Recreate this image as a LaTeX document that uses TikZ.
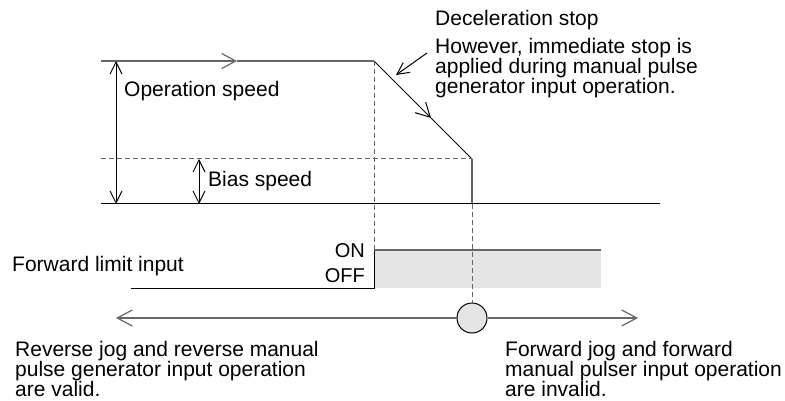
\documentclass[tikz,border=0pt]{standalone}
\usepackage{fontspec}
\setmainfont{Liberation Sans}
\usetikzlibrary{arrows.meta}
\definecolor{linegray}{gray}{0.4}
\definecolor{sigfill}{gray}{0.9}
\begin{document}
\begin{tikzpicture}[x=1pt,y=-1pt]

    \tikzset{
      txt/.style={anchor=base west,inner sep=0pt,font=\fontsize{21}{20}\selectfont,align=left},
      onoff/.style={anchor=base east,inner sep=0pt,font=\fontsize{20}{22}\selectfont,align=right},
      barb/.style={-{Straight Barb[length=14pt,width=15pt]}},
      dimarrow/.style={{Straight Barb[length=12pt,width=12pt]}-{Straight Barb[length=12pt,width=12pt]}},
      guide/.style={color=linegray,dashed,dash pattern=on 5pt off 3pt,line width=1pt},
    }
    \useasboundingbox (0,0) rectangle (785,401);
	% speed pattern
	\coordinate (start) at (101,61);
	\coordinate (decel) at (374,61);
	\coordinate (stop) at (472,159);
	\coordinate (base) at (472,204);
	\draw[color=linegray,line width=1.2pt,barb] (start)--(237,61);
	\draw[color=linegray,line width=1.2pt] (237,61)--(decel);
	\draw[color=black,line width=1pt,barb] (decel)--(431,118);
	\draw[color=black,line width=1pt] (431,118)--(stop);
	\draw[color=linegray,line width=1.2pt] (stop)--(base);
	\draw[guide] (101,159)--(stop);
	\draw[color=black,line width=1pt] (101,204)--(660,204);
	\draw[color=black,line width=1pt,dimarrow] (116,61)--(116,204);
	\draw[color=black,line width=1pt,dimarrow] (199,159)--(199,204);
	% forward limit input
	\fill[color=sigfill] (374,250) rectangle (601,288);
	\draw[color=black,line width=1pt] (131,288)--(374,288)--(374,250);
	\draw[color=linegray,line width=1.2pt] (374,250)--(601,250);
	\draw[guide] (decel)--(374,250);
	% position axis
	\node[circle,draw=black,fill=sigfill,line width=1pt,minimum size=30pt,inner sep=0pt] (pos) at (472,318) {};
	\draw[guide] (base)--(pos.north);
	\draw[color=linegray,line width=1.2pt,{Straight Barb[length=15pt,width=16pt]}-] (116,318)--(pos.west);
	\draw[color=linegray,line width=1.2pt,-{Straight Barb[length=15pt,width=16pt]}] (pos.east)--(638,318);
	% labels
	\node[txt] (opspeed) at (124,97) {Operation speed};
	\node[txt] (biasspeed) at (208,187) {Bias speed};
	\node[txt] (fwdlimit) at (12,271) {Forward limit input};
	\node[onoff] (on) at (365,258) {ON};
	\node[onoff] (off) at (365,282) {OFF};
	\node[txt] (decstop) at (435,26) {Deceleration stop};
	\node[txt,anchor=north west] (however) at (435,38) {However, immediate stop is\\applied during manual pulse\\generator input operation.};
	\draw[color=black,line width=1pt,-{Straight Barb[length=12pt,width=12pt]}] (427,53)--(396,75);
	\node[txt,anchor=north west] (reverse) at (15,341) {Reverse jog and reverse manual\\pulse generator input operation\\are valid.};
	\node[txt,anchor=north west] (forward) at (505,341) {Forward jog and forward\\manual pulser input operation\\are invalid.};

\end{tikzpicture}
\end{document}
